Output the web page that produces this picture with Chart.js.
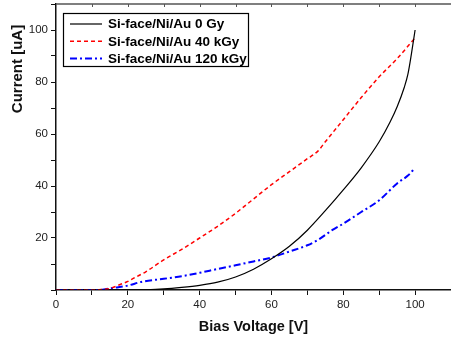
<!DOCTYPE html>
<html>
<head>
<meta charset="utf-8">
<script src="https://cdn.jsdelivr.net/npm/chart.js@4.4.1/dist/chart.umd.min.js"></script>
<style>
  html, body { margin: 0; padding: 0; background: #fff; overflow: hidden; }
  #wrap { width: 454px; height: 343px; }
</style>
</head>
<body>
<div id="wrap"><canvas id="ivChart"></canvas></div>
<script>
// bias voltage [V] / current [uA]
const voltage0 = [0, 10, 20, 25, 30, 35, 40, 45, 50, 55, 60, 65, 70, 75, 80, 85, 90, 93, 95, 97, 98, 99, 100];
const current0 = [0, 0, 0, 0.1, 0.4, 1, 1.8, 3, 5, 8, 12, 16.8, 23, 30.5, 38.5, 47, 57, 64.5, 70.5, 78, 83, 91, 100];

const voltage40 = [0, 10, 12, 15, 18, 20, 22, 25, 30, 35, 40, 45, 50, 55, 60, 65, 70, 73, 75, 80, 85, 90, 95, 100];
const current40 = [0, 0, 0.1, 0.6, 2.2, 3.3, 4.8, 7.0, 11.6, 15.6, 20, 24.5, 29.5, 35, 40.5, 45.5, 50.5, 53.5, 57, 65.5, 74, 82, 89, 97];

const voltage120 = [0, 12, 14, 17, 20, 24, 30, 35, 40, 45, 50, 55, 60, 65, 70, 73, 77, 80, 85, 90, 95, 98, 100];
const current120 = [0, 0, 0.4, 1, 1.7, 3.2, 4.3, 5.3, 6.6, 8.1, 9.5, 11, 12.5, 14.8, 17.2, 19.3, 23.1, 25.5, 30, 34.5, 41, 44, 47];

const seriesLabels = ['Si-face/Ni/Au 0 Gy', 'Si-face/Ni/Au 40 kGy', 'Si-face/Ni/Au 120 kGy'];
const xTickLabels = [0, 20, 40, 60, 80, 100];
const yTickLabels = [20, 40, 60, 80, 100];

const toPoints = (xs, ys) => xs.map((x, i) => ({ x, y: ys[i] }));

// boxed legend in the upper left, like the original plot
const boxLegend = {
  id: 'boxLegend',
  afterDraw(chart) {
    const ctx = chart.ctx;
    ctx.save();
    ctx.strokeStyle = '#000';
    ctx.lineWidth = 1.2;
    ctx.strokeRect(63.5, 13.5, 185, 53);
    ctx.font = 'bold 13.5px "Liberation Sans", Arial, sans-serif';
    ctx.textBaseline = 'middle';
    ctx.fillStyle = '#000';
    chart.data.datasets.forEach((ds, i) => {
      const y = 24 + i * 17.3;
      ctx.beginPath();
      ctx.setLineDash(ds.borderDash || []);
      ctx.strokeStyle = ds.borderColor;
      ctx.lineWidth = ds.borderWidth;
      ctx.moveTo(70, y);
      ctx.lineTo(102, y);
      ctx.stroke();
      ctx.setLineDash([]);
      ctx.fillText(ds.label, 108, y + 0.5);
    });
    ctx.restore();
  }
};

// top frame with small inward ticks and the y title near the top
const frameExtras = {
  id: 'frameExtras',
  afterDraw(chart) {
    const ctx = chart.ctx;
    const area = chart.chartArea;
    const xs = chart.scales.x;
    ctx.save();
    ctx.strokeStyle = '#555';
    ctx.lineWidth = 1.5;
    ctx.beginPath();
    ctx.moveTo(area.left, area.top);
    ctx.lineTo(area.right, area.top);
    ctx.stroke();
    ctx.lineWidth = 1;
    for (let v = 10; v <= 100; v += 10) {
      const px = Math.round(xs.getPixelForValue(v)) + 0.5;
      ctx.beginPath();
      ctx.moveTo(px, area.top);
      ctx.lineTo(px, area.top + 3);
      ctx.stroke();
    }
    ctx.translate(18, 69);
    ctx.rotate(-Math.PI / 2);
    ctx.font = 'bold 15px "Liberation Sans", Arial, sans-serif';
    ctx.fillStyle = '#111';
    ctx.textAlign = 'center';
    ctx.textBaseline = 'middle';
    ctx.fillText('Current [uA]', 0, 0);
    ctx.restore();
  }
};

new Chart(document.getElementById('ivChart'), {
  type: 'line',
  data: {
    datasets: [
      {
        label: seriesLabels[0],
        data: toPoints(voltage0, current0),
        borderColor: '#000000',
        borderWidth: 1.2
      },
      {
        label: seriesLabels[1],
        data: toPoints(voltage40, current40),
        borderColor: '#ff0000',
        borderWidth: 1.5,
        borderDash: [4, 3]
      },
      {
        label: seriesLabels[2],
        data: toPoints(voltage120, current120),
        borderColor: '#0000ff',
        borderWidth: 2,
        borderDash: [7, 3, 2, 3]
      }
    ]
  },
  options: {
    responsive: true,
    maintainAspectRatio: false,
    animation: false,
    elements: {
      point: { radius: 0 },
      line: { cubicInterpolationMode: 'monotone', fill: false }
    },
    layout: { padding: { top: 4, right: 1, left: 0, bottom: 0 } },
    plugins: {
      legend: { display: false },
      tooltip: { enabled: false }
    },
    scales: {
      x: {
        type: 'linear',
        min: 0,
        max: 110,
        afterFit: s => { s.height = 53; },
        border: { color: '#111', width: 1.5 },
        grid: { drawOnChartArea: false, tickLength: 5, tickColor: '#111' },
        ticks: {
          stepSize: 10,
          autoSkip: false,
          maxRotation: 0,
          padding: 3,
          color: '#222',
          font: { family: '"Liberation Sans", Arial, sans-serif', size: 11.5 },
          callback: v => (xTickLabels.includes(v) ? String(v) : '')
        },
        title: {
          display: true,
          text: 'Bias Voltage [V]',
          color: '#111',
          padding: { top: 0, bottom: 7 },
          font: { family: '"Liberation Sans", Arial, sans-serif', size: 14.5, weight: 'bold' }
        }
      },
      y: {
        min: 0,
        max: 110,
        afterFit: s => { s.width = 56; s.paddingTop = 0; s.paddingBottom = 0; },
        border: { color: '#111', width: 1.5 },
        grid: { drawOnChartArea: false, tickLength: 5, tickColor: '#111' },
        ticks: {
          stepSize: 10,
          autoSkip: false,
          padding: 3,
          color: '#222',
          font: { family: '"Liberation Sans", Arial, sans-serif', size: 11.5 },
          callback: v => (yTickLabels.includes(v) ? String(v) : '')
        }
      }
    }
  },
  plugins: [boxLegend, frameExtras]
});
</script>
</body>
</html>
